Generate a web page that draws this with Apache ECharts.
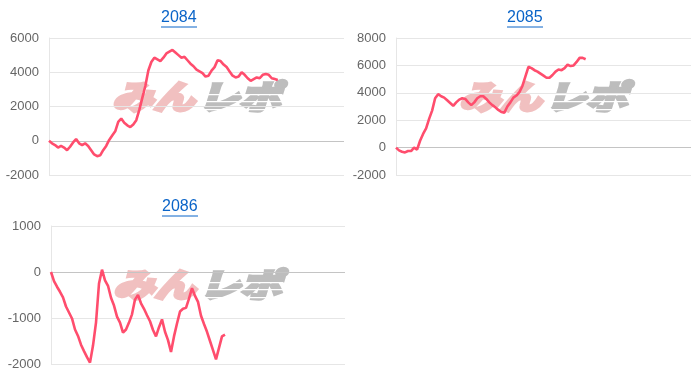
<!DOCTYPE html>
<html><head><meta charset="utf-8">
<script src="https://cdn.jsdelivr.net/npm/echarts@6/dist/echarts.min.js"></script>
<style>html,body{margin:0;padding:0;background:#fff}#c{width:700px;height:382px}</style>
</head><body><div id="c"></div>
<script>
const titles = ['2084', '2085', '2086'];
const xCount = 99;
const categories = Array.from({length: xCount}, (_, i) => String(i + 1));
const values2084 = [0,-150,-250,-400,-300,-400,-550,-350,-100,100,-150,-250,-150,-300,-550,-800,-900,-850,-550,-300,50,300,550,1100,1300,1050,900,800,950,1200,1800,2500,3200,4100,4600,4850,4750,4650,4850,5100,5200,5300,5150,5000,4850,4900,4700,4500,4350,4150,4050,3950,3750,3800,4100,4300,4700,4650,4450,4300,4050,3800,3700,3750,4000,3850,3650,3500,3600,3700,3650,3850,3900,3850,3650,3600,3550];
const values2085 = [0,-200,-300,-350,-250,-250,0,-150,500,1000,1400,2100,2700,3600,3900,3750,3650,3450,3250,3050,3300,3500,3600,3550,3300,3100,3300,3600,3750,3750,3550,3300,3100,2950,2750,2600,2550,3000,3300,3650,3800,4050,4500,5200,5900,5800,5650,5550,5400,5250,5100,5100,5300,5550,5700,5650,5800,6050,5950,6000,6250,6550,6550,6450];
const values2086 = [0,-200,-320,-430,-550,-750,-880,-1010,-1250,-1390,-1580,-1720,-1850,-1970,-1600,-1100,-250,50,-180,-300,-560,-730,-970,-1100,-1320,-1250,-1100,-920,-600,-500,-680,-800,-940,-1070,-1260,-1400,-1200,-1030,-1300,-1480,-1740,-1400,-1120,-860,-800,-780,-580,-350,-520,-650,-950,-1130,-1300,-1500,-1700,-1900,-1650,-1400,-1360];
const yTicks = [
  {min: -2000, max: 6000, interval: 2000},
  {min: -2000, max: 8000, interval: 2000},
  {min: -2000, max: 1000, interval: 1000}
];
const seriesValues = [values2084, values2085, values2086];

const grids = [
  {left: 49, top: 38, width: 295, height: 137},
  {left: 396, top: 38, width: 295, height: 137},
  {left: 51, top: 226, width: 294, height: 138}
];
const titlePos = [{x: 179, y: 19}, {x: 525, y: 19}, {x: 180, y: 208}];
const markPos = [{x: 112, y: 97}, {x: 459, y: 97}, {x: 113, y: 285}];

const chart = echarts.init(document.getElementById('c'), null, {renderer: 'canvas'});
const graphic = [];
const wmFont = 'italic bold 33px "Noto Sans CJK JP", sans-serif';
titles.forEach((t, k) => {
  const p = titlePos[k];
  graphic.push({type: 'text', left: p.x - 18, top: p.y - 9, z: 5,
    style: {text: t, fill: '#0a64c8', font: '16px "Liberation Sans", Arial, sans-serif'}});
  graphic.push({type: 'line', z: 5, shape: {x1: p.x - 18, y1: p.y + 8, x2: p.x + 18, y2: p.y + 8},
    style: {stroke: '#0a64c8', lineWidth: 1}});
  const m = markPos[k];
  graphic.push({type: 'text', x: m.x, y: m.y - 17, scaleX: 1.25, z: -1, silent: true,
    style: {text: 'みん', fill: '#f1c0c0', stroke: '#f1c0c0', lineWidth: 3.5, font: wmFont}});
  graphic.push({type: 'text', x: m.x + 86, y: m.y - 17, scaleX: 1.25, z: -1, silent: true,
    style: {text: 'レポ', fill: '#bdbdbd', stroke: '#bdbdbd', lineWidth: 3.5, font: wmFont}});
  [6, 13, 21].forEach(dy => {
    graphic.push({type: 'rect', z: -1, silent: true,
      shape: {x: m.x + 86, y: m.y - 17 + dy + 8, width: 84, height: 1.2},
      style: {fill: '#ffffff'}});
  });
});

const option = {
  animation: false,
  grid: grids,
  graphic: graphic,
  xAxis: grids.map((g, k) => ({
    type: 'category', gridIndex: k, data: categories, boundaryGap: false,
    axisLine: {show: false}, axisTick: {show: false}, axisLabel: {show: false}, splitLine: {show: false}
  })),
  yAxis: yTicks.map((t, k) => {
    const n = Math.round((t.max - t.min) / t.interval) + 1;
    const colors = [];
    for (let i = 0; i < n; i++) colors.push(t.min + i * t.interval === 0 ? '#c4c4c4' : '#e6e6e6');
    return {
      type: 'value', gridIndex: k, min: t.min, max: t.max, interval: t.interval,
      axisLine: {show: true, lineStyle: {color: '#e6e6e6'}},
      axisTick: {show: false},
      axisLabel: {color: '#666', fontSize: 13, margin: 10, fontFamily: '"Liberation Sans", Arial, sans-serif',
        formatter: v => String(v)},
      splitLine: {show: true, lineStyle: {color: colors, width: 1}}
    };
  }),
  series: seriesValues.map((v, k) => ({
    type: 'line', xAxisIndex: k, yAxisIndex: k, data: v, showSymbol: false, z: 3,
    lineStyle: {color: '#ff4d6d', width: 2.6}, itemStyle: {color: '#ff4d6d'}
  }))
};
chart.setOption(option);
</script></body></html>
